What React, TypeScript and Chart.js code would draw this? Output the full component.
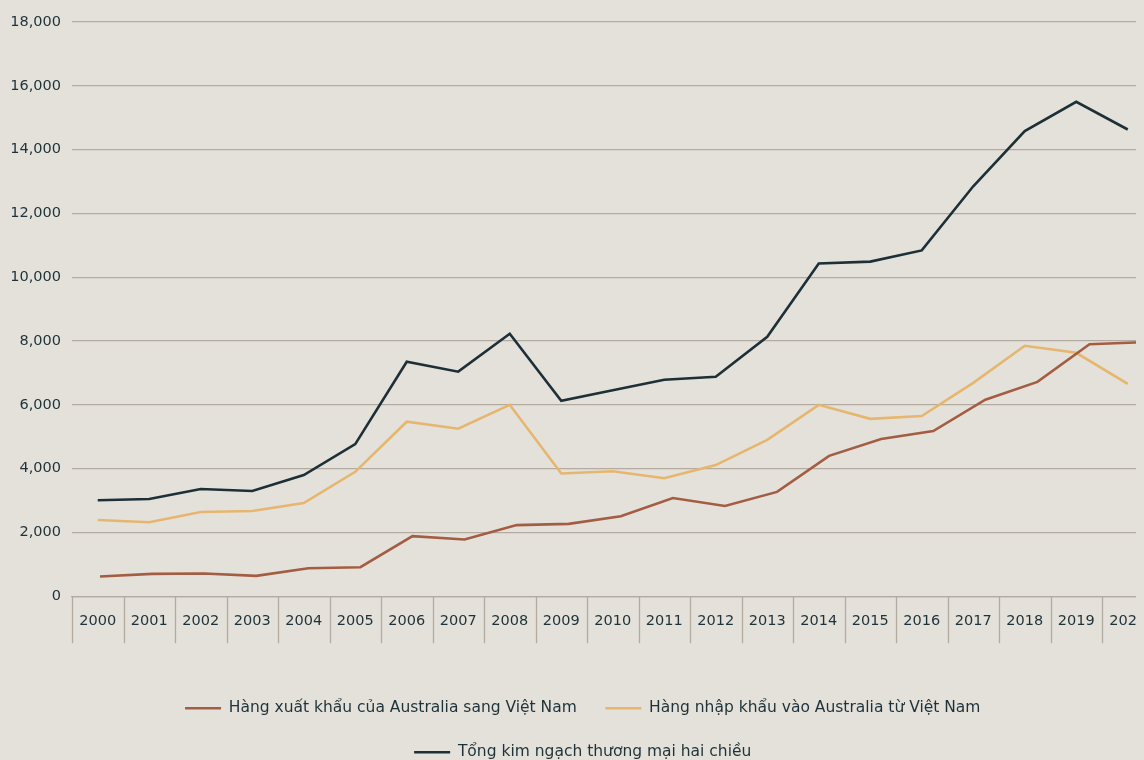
import React, { useEffect, useRef } from "react";
import { Chart, registerables } from "chart.js";

Chart.register(...registerables);

const years: string[] = [
  "2000", "2001", "2002", "2003", "2004", "2005", "2006", "2007", "2008", "2009", "2010",
  "2011", "2012", "2013", "2014", "2015", "2016", "2017", "2018", "2019", "2020",
];

const exportsToVietnam: number[] = [
  620, 700, 715, 640, 880, 910, 1885, 1780, 2230, 2270, 2510,
  3080, 2830, 3270, 4400, 4930, 5180, 6160, 6720, 7900, 7960,
];

const importsFromVietnam: number[] = [
  2390, 2320, 2640, 2670, 2920, 3900, 5470, 5250, 6000, 3850, 3920,
  3700, 4110, 4900, 6000, 5560, 5650, 6690, 7850, 7630, 6660,
];

const totalTrade: number[] = [
  3010, 3050, 3360, 3300, 3800, 4770, 7350, 7040, 8230, 6125, 6460,
  6785, 6880, 8135, 10430, 10490, 10840, 12850, 14580, 15500, 14630,
];

const seriesLabels: string[] = [
  "Hàng xuất khẩu của Australia sang Việt Nam",
  "Hàng nhập khẩu vào Australia từ Việt Nam",
  "Tổng kim ngạch thương mại hai chiều",
];

const yTickValues: number[] = [0, 2000, 4000, 6000, 8000, 10000, 12000, 14000, 16000, 18000];

const BG = "#e4e1db";
const TEXT = "#1e3239";
const GRID = "#b3aaa0";
const FONT = "'DejaVu Sans', sans-serif";

const categorySeparators = {
  id: "categorySeparators",
  afterDraw(chart: any) {
    const scale = chart.scales.x;
    const ctx = chart.ctx;
    const top = chart.chartArea.bottom;
    ctx.save();
    ctx.strokeStyle = GRID;
    ctx.lineWidth = 1.3;
    ctx.beginPath();
    for (let i = 0; i <= years.length; i++) {
      const px = Math.round(scale.getPixelForValue(i - 0.5)) + 0.5;
      ctx.moveTo(px, top);
      ctx.lineTo(px, top + 47);
    }
    ctx.stroke();
    ctx.restore();
  },
};

export default function App() {
  const ref = useRef<HTMLCanvasElement | null>(null);

  useEffect(() => {
    document.documentElement.style.background = BG;
    document.documentElement.style.overflow = "hidden";
    document.body.style.background = BG;
    const canvas = ref.current;
    if (!canvas) return;
    const chart = new Chart(canvas, {
      type: "line",
      data: {
        labels: years,
        datasets: [
          {
            label: seriesLabels[0],
            data: exportsToVietnam.map((v, i) => ({ x: i, y: v })),
            xAxisID: "x2",
            borderColor: "#a35d42",
            backgroundColor: "#a35d42",
            borderWidth: 2.6,
            pointRadius: 0,
            tension: 0,
          },
          {
            label: seriesLabels[1],
            data: importsFromVietnam,
            borderColor: "#e6b66f",
            backgroundColor: "#e6b66f",
            borderWidth: 2.6,
            pointRadius: 0,
            tension: 0,
          },
          {
            label: seriesLabels[2],
            data: totalTrade,
            borderColor: "#1d3037",
            backgroundColor: "#1d3037",
            borderWidth: 2.6,
            pointRadius: 0,
            tension: 0,
          },
        ],
      },
      options: {
        responsive: false,
        animation: false,
        layout: { padding: { left: 4, right: 4.5, top: 0, bottom: 8 } },
        plugins: {
          legend: {
            position: "bottom",
            labels: {
              color: TEXT,
              font: { family: FONT, size: 15.5 },
              usePointStyle: true,
              pointStyle: "line",
              pointStyleWidth: 36,
              boxWidth: 36,
              padding: 28.5,
            },
          },
          tooltip: { enabled: false },
        },
        scales: {
          x: {
            type: "category",
            offset: true,
            grid: { display: false, drawTicks: false },
            border: { display: true, color: GRID, width: 1.3 },
            ticks: {
              color: TEXT,
              font: { family: FONT, size: 14.5 },
              padding: 16,
              maxRotation: 0,
              autoSkip: false,
            },
            afterFit: (scale: any) => {
              scale.height = 75.75;
              scale.paddingLeft = 0;
              scale.paddingRight = 0;
            },
          },
          x2: {
            type: "linear",
            display: false,
            min: -0.5376,
            max: 20.229,
          },
          y: {
            min: 0,
            max: 18000,
            afterBuildTicks: (scale: any) => {
              scale.ticks = yTickValues.map((v) => ({ value: v }));
            },
            afterFit: (scale: any) => {
              scale.width = 60;
              scale.paddingTop = 14;
              scale.paddingBottom = 0;
            },
            grid: { color: GRID, lineWidth: 1.3, drawTicks: false },
            border: { display: false },
            ticks: {
              color: TEXT,
              font: { family: FONT, size: 14.5 },
              padding: 11,
            },
          },
        },
      },
      plugins: [categorySeparators],
    });
    return () => chart.destroy();
  }, []);

  return (
    <div style={{ width: 1150, height: 770 }}>
      <canvas ref={ref} width={1150} height={770} style={{ width: 1150, height: 770, display: "block" }} />
    </div>
  );
}
